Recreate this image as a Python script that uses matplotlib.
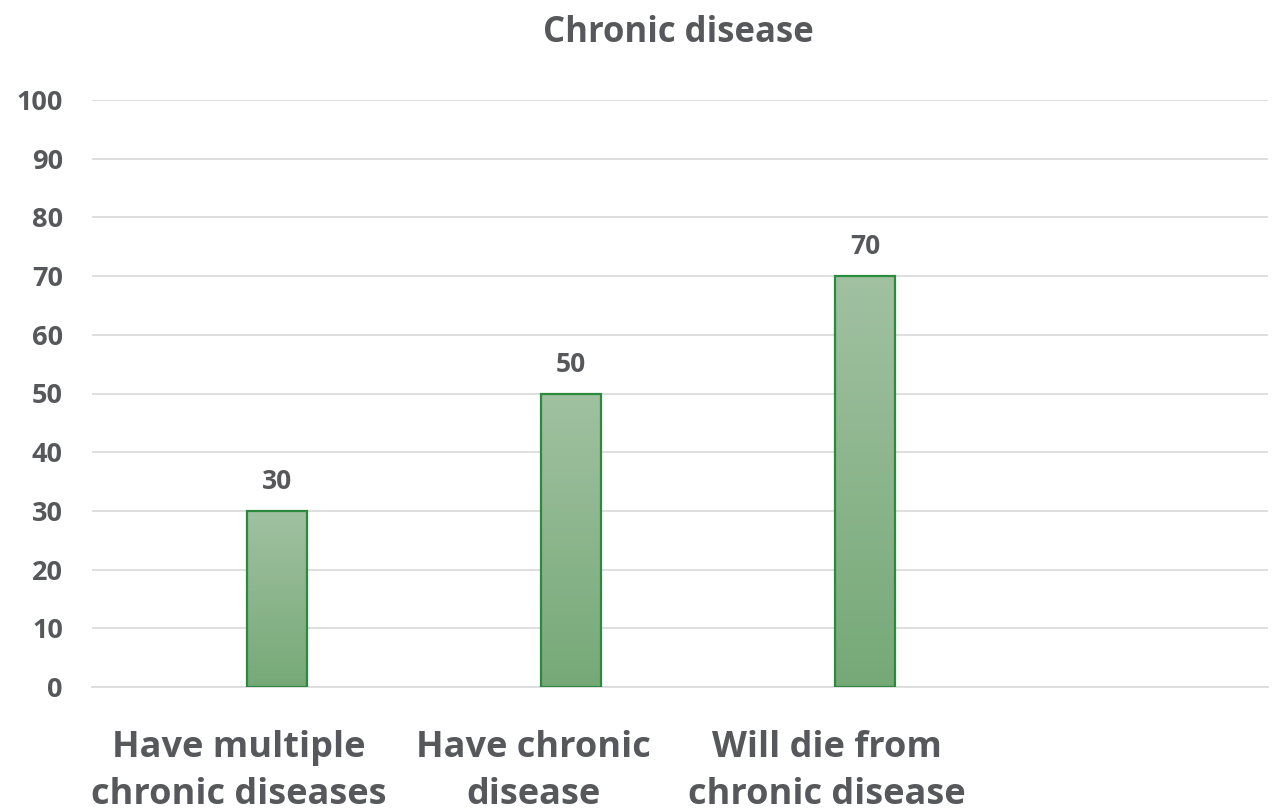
import numpy as np
import matplotlib
matplotlib.use("Agg")
import matplotlib.pyplot as plt
from matplotlib.colors import LinearSegmentedColormap

categories = ["Have multiple\nchronic diseases", "Have chronic\ndisease", "Will die from\nchronic disease", ""]
values = [30, 50, 70]
y_ticks = [0, 10, 20, 30, 40, 50, 60, 70, 80, 90, 100]

text_grey = "#56585c"
grid_grey = "#d9d9d9"
bar_edge = "#2b8a3e"
fill_top = "#a1c1a1"
fill_bottom = "#76a977"

plt.rcParams["font.family"] = ["Open Sans", "DejaVu Sans"]
plt.rcParams["font.weight"] = "bold"

W, H = 1272, 811
fig = plt.figure(figsize=(W / 100, H / 100), dpi=100)
ax = fig.add_axes([92 / W, 1 - 687 / H, 1176 / W, 587 / H])

bar_width = 0.204
bar_shift = 0.13  # bars sit a little right of the category centre
gradient = LinearSegmentedColormap.from_list("bar_fill", [fill_bottom, fill_top])
ramp = np.linspace(0, 1, 256).reshape(-1, 1)

xs = np.arange(len(values)) + bar_shift
bars = ax.bar(xs, values, width=bar_width,
              facecolor="none", edgecolor=bar_edge, linewidth=1.6, zorder=3)
for rect in bars:
    x0 = rect.get_x()
    h = rect.get_height()
    ax.imshow(ramp, cmap=gradient, origin="lower", aspect="auto",
              extent=(x0, x0 + rect.get_width(), 0, h), zorder=2)
    ax.text(x0 + rect.get_width() / 2, h + 3.7, f"{h:.0f}",
            ha="center", va="baseline", fontsize=19, color=text_grey,
            fontweight="bold")
ax.set_xlim(-0.5, len(categories) - 0.5)
ax.set_ylim(0, 100)

ax.set_yticks(y_ticks)
ax.yaxis.grid(True, color=grid_grey, linewidth=1.2)
ax.set_axisbelow(True)
ax.tick_params(axis="y", length=0, pad=21, labelsize=19.5, labelcolor=text_grey)
for lbl in ax.get_yticklabels():
    lbl.set_fontweight("bold")

ax.set_xticks(range(len(categories)))
ax.set_xticklabels(categories, fontsize=26, color=text_grey, fontweight="bold",
                   linespacing=1.4)
ax.tick_params(axis="x", length=0, pad=31)

for side in ["top", "right", "left"]:
    ax.spines[side].set_visible(False)
ax.spines["bottom"].set_color(grid_grey)
ax.spines["bottom"].set_linewidth(1.2)

fig.text(678 / W, 1 - 42 / H, "Chronic disease", ha="center", va="baseline",
         fontsize=25, color=text_grey, fontweight="bold")

fig.savefig("out.png", dpi=100)
